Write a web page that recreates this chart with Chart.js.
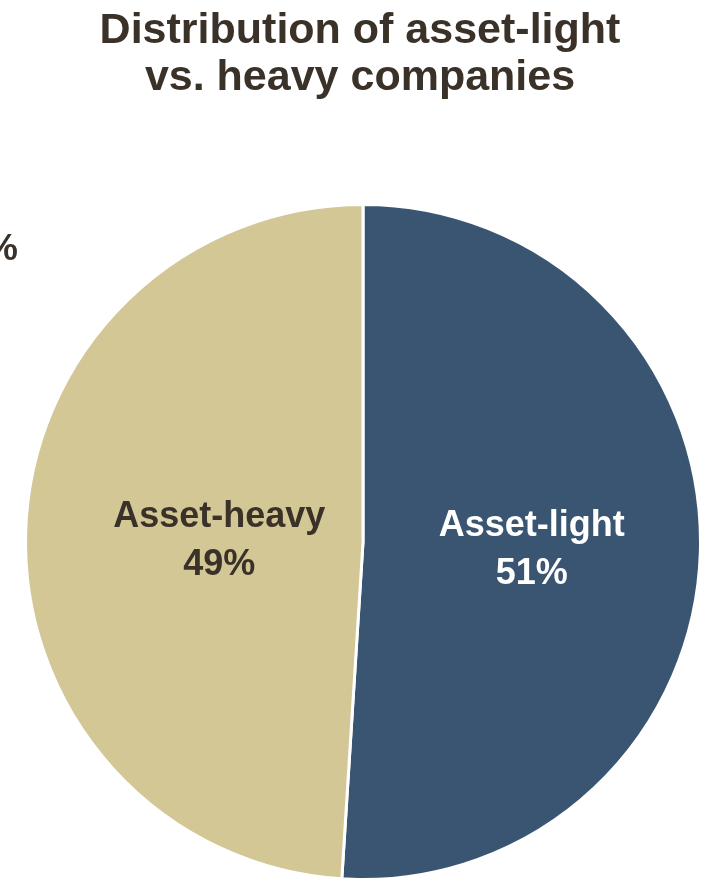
<!DOCTYPE html>
<html>
<head>
<meta charset="utf-8">
<script src="https://cdn.jsdelivr.net/npm/chart.js@4.4.1/dist/chart.umd.min.js"></script>
<style>
  html, body { margin: 0; padding: 0; background: #ffffff; }
  #wrap { width: 706px; height: 881px; position: relative; }
</style>
</head>
<body>
<div id="wrap"><canvas id="pie"></canvas></div>
<script>
const categories = ['Asset-light', 'Asset-heavy'];
const shares = [51, 49];
const sliceColors = ['#3a5572', '#d3c796'];
const labelColors = ['#ffffff', '#3a3229'];
const titleLines = ['Distribution of asset-light', 'vs. heavy companies'];

const FONT = '"Liberation Sans", Arial, Helvetica, sans-serif';
const DARK = '#3a3229';

// label nudges from the arc centroid, per slice
const labelOffsets = [[0, 3], [25, 4]];

const overlay = {
  id: 'overlay',
  afterDraw(chart) {
    const { ctx } = chart;
    ctx.save();

    // heading
    ctx.fillStyle = DARK;
    ctx.font = `bold 43px ${FONT}`;
    ctx.textAlign = 'center';
    ctx.textBaseline = 'alphabetic';
    ctx.fillText(titleLines[0], 360, 43);
    ctx.fillText(titleLines[1], 360, 90);

    // stray percent sign cut off at the left edge
    ctx.font = `bold 37px ${FONT}`;
    ctx.textAlign = 'right';
    ctx.fillText('%', 18, 260);

    // slice labels
    const meta = chart.getDatasetMeta(0);
    ctx.font = `bold 36px ${FONT}`;
    ctx.textAlign = 'center';
    ctx.textBaseline = 'middle';
    meta.data.forEach((arc, i) => {
      const p = arc.tooltipPosition();
      const x = p.x + labelOffsets[i][0];
      const y = p.y + labelOffsets[i][1];
      ctx.fillStyle = labelColors[i];
      ctx.fillText(categories[i], x, y - 24);
      ctx.fillText(shares[i] + '%', x, y + 24);
    });

    ctx.restore();
  }
};

new Chart(document.getElementById('pie'), {
  type: 'pie',
  plugins: [overlay],
  data: {
    labels: categories,
    datasets: [{
      data: shares,
      backgroundColor: sliceColors,
      hoverBackgroundColor: sliceColors,
      borderColor: '#ffffff',
      borderWidth: 3,
    }],
  },
  options: {
    responsive: true,
    maintainAspectRatio: false,
    animation: false,
    layout: {
      padding: { top: 203, bottom: 0, left: 24, right: 4 },
    },
    plugins: {
      legend: { display: false },
      title: { display: false },
      tooltip: { enabled: false },
    },
  },
});
</script>
</body>
</html>
